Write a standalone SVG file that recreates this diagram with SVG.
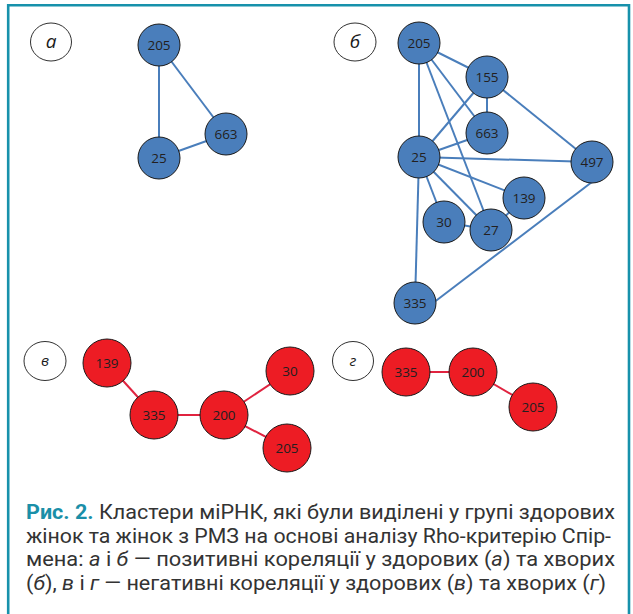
<svg xmlns="http://www.w3.org/2000/svg" width="633" height="614" viewBox="0 0 633 614">
  <style>
    .frame { fill: none; stroke: #1791ab; stroke-width: 2.6; }
    .tag { fill: #ffffff; stroke: #1a1a1a; stroke-width: 0.9; }
    .tagtxt { font-family: "Open Sans", "Noto Sans", sans-serif; font-style: italic; fill: #1a1a1a; text-anchor: middle; }
    .pos circle { fill: #4a7ebb; stroke: #1a1a1a; stroke-width: 1; }
    .neg circle { fill: #ed1c24; stroke: #1a1a1a; stroke-width: 1; }
    .lbl { font-family: "Open Sans", "Noto Sans", sans-serif; font-size: 13.5px; fill: #231f20; text-anchor: middle; }
    .eb { stroke: #4a7ebb; stroke-width: 2; fill: none; }
    .er { stroke: #e0233f; stroke-width: 2; fill: none; }
    .cap { font-family: Roboto, "Liberation Sans", sans-serif; font-size: 20px; fill: #333333; }
    .capb { font-weight: bold; fill: #1a8fa8; }
    .it { font-style: italic; }
  </style>

  <rect width="633" height="614" fill="#ffffff"/>
  <path class="frame" d="M8.2,614 V5.3 H629 V614"/>

  <!-- panel tags -->
  <g id="tag-a"><ellipse class="tag" cx="51" cy="42" rx="20.5" ry="19"/><text class="tagtxt" x="51" y="48" font-size="19">а</text></g>
  <g id="tag-b"><ellipse class="tag" cx="355" cy="42" rx="21" ry="19"/><text class="tagtxt" x="355" y="48" font-size="19">б</text></g>
  <g id="tag-v"><ellipse class="tag" cx="45" cy="361" rx="21" ry="19.5"/><text class="tagtxt" x="45" y="366" font-size="15">в</text></g>
  <g id="tag-g"><ellipse class="tag" cx="353" cy="361" rx="20.5" ry="19.5"/><text class="tagtxt" x="353" y="366" font-size="15">г</text></g>

  <!-- connectors -->
  <g id="connectors">
    <!-- а -->
    <line class="eb" x1="159" y1="45" x2="159" y2="158"/>
    <line class="eb" x1="159" y1="45" x2="226" y2="134"/>
    <line class="eb" x1="159" y1="158" x2="226" y2="134"/>
    <!-- б -->
    <line class="eb" x1="419" y1="43" x2="487" y2="77"/>
    <line class="eb" x1="419" y1="43" x2="487" y2="133"/>
    <line class="eb" x1="419" y1="43" x2="491" y2="230"/>
    <line class="eb" x1="419" y1="43" x2="419" y2="157"/>
    <line class="eb" x1="487" y1="77" x2="487" y2="133"/>
    <line class="eb" x1="487" y1="77" x2="419" y2="157"/>
    <line class="eb" x1="487" y1="77" x2="592" y2="162"/>
    <line class="eb" x1="419" y1="157" x2="487" y2="133"/>
    <line class="eb" x1="419" y1="157" x2="592" y2="162"/>
    <line class="eb" x1="419" y1="157" x2="524" y2="198"/>
    <line class="eb" x1="419" y1="157" x2="444" y2="222"/>
    <line class="eb" x1="419" y1="157" x2="491" y2="230"/>
    <line class="eb" x1="419" y1="157" x2="415" y2="303"/>
    <line class="eb" x1="444" y1="222" x2="491" y2="230"/>
    <line class="eb" x1="491" y1="230" x2="524" y2="198"/>
    <line class="eb" x1="433" y1="303" x2="592" y2="182"/>
    <!-- в -->
    <line class="er" x1="107" y1="363" x2="154" y2="415"/>
    <line class="er" x1="154" y1="415" x2="224" y2="415"/>
    <line class="er" x1="224" y1="415" x2="290" y2="371"/>
    <line class="er" x1="224" y1="415" x2="287" y2="448"/>
    <!-- г -->
    <line class="er" x1="406" y1="372" x2="473" y2="372"/>
    <line class="er" x1="473" y1="372" x2="533" y2="407"/>
  </g>

  <!-- panel а: positive correlations, healthy -->
  <g class="pos">
    <g id="a-205"><circle cx="159" cy="45" r="21"/><text class="lbl" x="159" y="49.5">205</text></g>
    <g id="a-663"><circle cx="226" cy="134" r="21"/><text class="lbl" x="226" y="138.5">663</text></g>
    <g id="a-25"><circle cx="159" cy="158" r="21"/><text class="lbl" x="159" y="162.5">25</text></g>
  </g>

  <!-- panel б: positive correlations, patients -->
  <g class="pos">
    <g id="b-205"><circle cx="419" cy="43" r="21"/><text class="lbl" x="419" y="47.5">205</text></g>
    <g id="b-155"><circle cx="487" cy="77" r="21"/><text class="lbl" x="487" y="81.5">155</text></g>
    <g id="b-663"><circle cx="487" cy="133" r="21"/><text class="lbl" x="487" y="137.5">663</text></g>
    <g id="b-25"><circle cx="419" cy="157" r="21"/><text class="lbl" x="419" y="161.5">25</text></g>
    <g id="b-497"><circle cx="592" cy="162" r="21"/><text class="lbl" x="592" y="166.5">497</text></g>
    <g id="b-139"><circle cx="524" cy="198" r="21"/><text class="lbl" x="524" y="202.5">139</text></g>
    <g id="b-30"><circle cx="444" cy="222" r="21"/><text class="lbl" x="444" y="226.5">30</text></g>
    <g id="b-27"><circle cx="491" cy="230" r="21"/><text class="lbl" x="491" y="234.5">27</text></g>
    <g id="b-335"><circle cx="415" cy="303" r="21"/><text class="lbl" x="415" y="307.5">335</text></g>
  </g>

  <!-- panel в: negative correlations, healthy -->
  <g class="neg">
    <g id="v-139"><circle cx="107" cy="363" r="24"/><text class="lbl" x="107" y="367.5">139</text></g>
    <g id="v-335"><circle cx="154" cy="415" r="24"/><text class="lbl" x="154" y="419.5">335</text></g>
    <g id="v-200"><circle cx="224" cy="415" r="24"/><text class="lbl" x="224" y="419.5">200</text></g>
    <g id="v-30"><circle cx="290" cy="371" r="24"/><text class="lbl" x="290" y="375.5">30</text></g>
    <g id="v-205"><circle cx="287" cy="448" r="24"/><text class="lbl" x="287" y="452.5">205</text></g>
  </g>

  <!-- panel г: negative correlations, patients -->
  <g class="neg">
    <g id="g-335"><circle cx="406" cy="372" r="24"/><text class="lbl" x="406" y="376.5">335</text></g>
    <g id="g-200"><circle cx="473" cy="372" r="24"/><text class="lbl" x="473" y="376.5">200</text></g>
    <g id="g-205"><circle cx="533" cy="407" r="24"/><text class="lbl" x="533" y="411.5">205</text></g>
  </g>

  <!-- caption -->
  <g id="caption" class="cap">
    <text x="26" y="519" textLength="589" lengthAdjust="spacingAndGlyphs"><tspan class="capb">Рис. 2.</tspan> Кластери міРНК, які були виділені у групі здорових</text>
    <text x="26" y="543" textLength="585" lengthAdjust="spacingAndGlyphs">жінок та жінок з РМЗ на основі аналізу Rho-критерію Спір-</text>
    <text x="26" y="566" textLength="589" lengthAdjust="spacingAndGlyphs">мена: <tspan class="it">а</tspan> і <tspan class="it">б</tspan> — позитивні кореляції у здорових (<tspan class="it">а</tspan>) та хворих</text>
    <text x="26" y="590" textLength="580" lengthAdjust="spacingAndGlyphs">(<tspan class="it">б</tspan>), <tspan class="it">в</tspan> і <tspan class="it">г</tspan> — негативні кореляції у здорових (<tspan class="it">в</tspan>) та хворих (<tspan class="it">г</tspan>)</text>
  </g>
</svg>
